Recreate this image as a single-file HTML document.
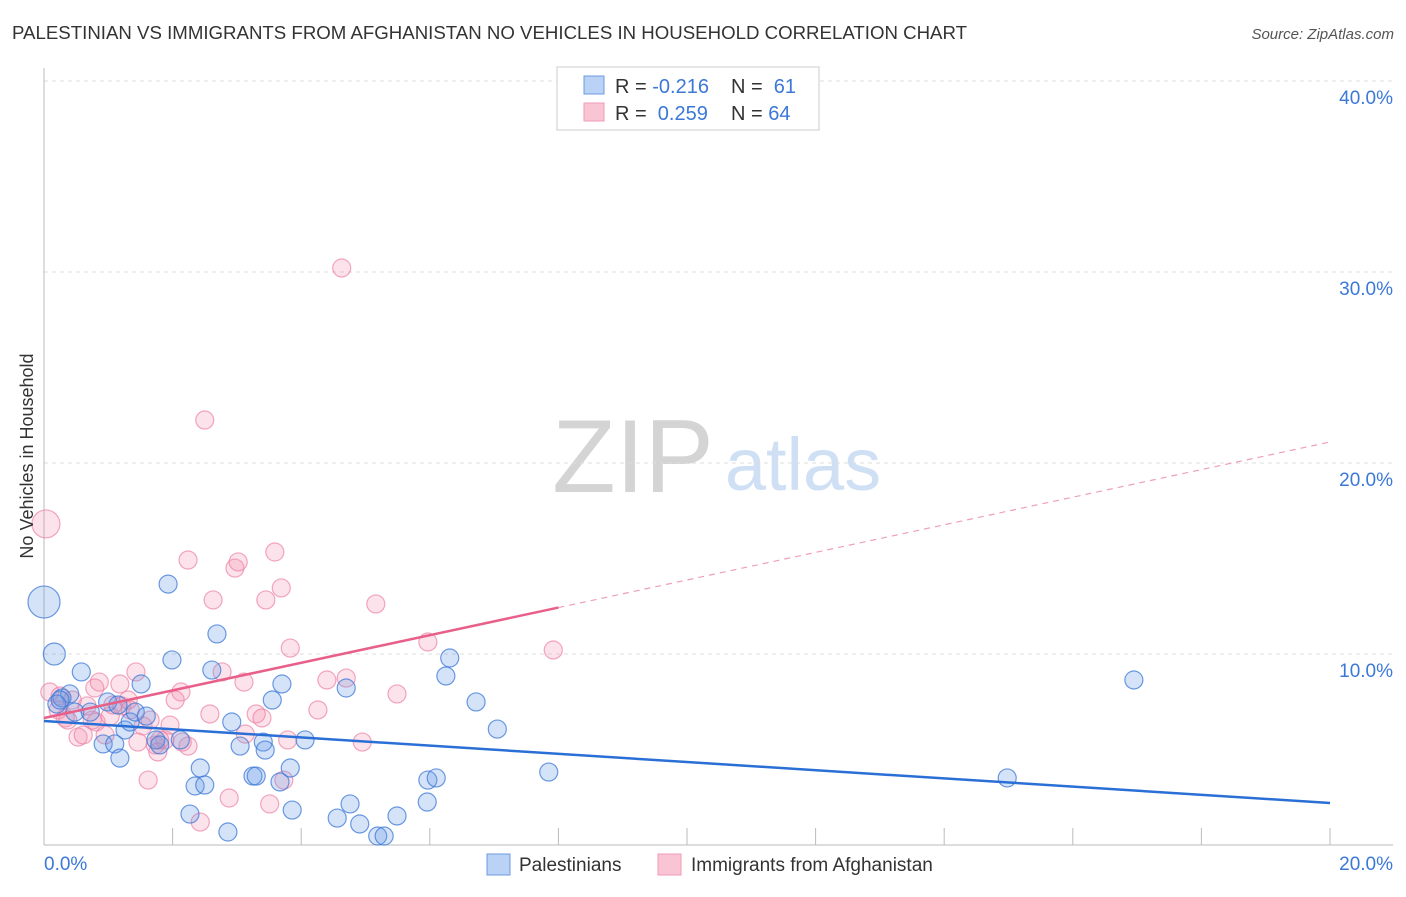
<!DOCTYPE html>
<html><head><meta charset="utf-8"><style>
body{margin:0;background:#fff;font-family:"Liberation Sans",sans-serif}
svg text{font-family:"Liberation Sans",sans-serif}
</style></head><body>
<svg id="chart" width="1406" height="892" viewBox="0 0 1406 892" xmlns="http://www.w3.org/2000/svg">
<text x="12" y="39" font-size="18" fill="#333" textLength="955" lengthAdjust="spacingAndGlyphs">PALESTINIAN VS IMMIGRANTS FROM AFGHANISTAN NO VEHICLES IN HOUSEHOLD CORRELATION CHART</text>
<text x="1394" y="39" font-size="15" fill="#555" text-anchor="end" font-style="italic">Source: ZipAtlas.com</text>
<g>
<text x="633" y="492" font-size="104" fill="#d4d4d4" text-anchor="middle" font-family="Liberation Serif">ZIP</text>
<text x="803" y="490" font-size="74" fill="#cfe0f5" text-anchor="middle">atlas</text>
</g>
<g id="grid"></g>
<g id="axes"></g>
<g id="points"></g>
<g id="trends"></g>
<text transform="translate(33,456) rotate(-90)" font-size="18" fill="#333" text-anchor="middle">No Vehicles in Household</text>
<g>
<rect x="557" y="67" width="262" height="63" fill="#fff" stroke="#ccc"/>
<rect x="584" y="76" width="20" height="18" fill="#b9d2f5" stroke="#6a9be0"/>
<rect x="584" y="103" width="20" height="18" fill="#f9c5d4" stroke="#f09ab5"/>
<text x="615" y="93" font-size="20" fill="#333">R = <tspan fill="#3b78d8">-0.216</tspan></text>
<text x="731" y="93" font-size="20" fill="#333">N = <tspan fill="#3b78d8">&#160;61</tspan></text>
<text x="615" y="120" font-size="20" fill="#333">R = <tspan fill="#3b78d8">&#160;0.259</tspan></text>
<text x="731" y="120" font-size="20" fill="#333">N = <tspan fill="#3b78d8">64</tspan></text>
</g>
<g>
<rect x="487" y="854" width="23" height="21" fill="#b9d2f5" stroke="#6a9be0"/>
<text x="519" y="871" font-size="19" fill="#333">Palestinians</text>
<rect x="658" y="854" width="23" height="21" fill="#f9c5d4" stroke="#f09ab5"/>
<text x="691" y="871" font-size="19" fill="#333">Immigrants from Afghanistan</text>
</g>
</svg>
<script>
const blueX=[0,0.16,0.58,0.40,0.28,0.20,0.92,1.10,1.18,1.26,1.34,1.42,1.51,1.59,1.74,1.80,1.93,1.99,2.12,2.35,2.27,2.43,2.50,2.61,2.69,2.92,3.05,2.86,3.25,3.30,3.41,3.44,3.55,3.70,3.67,3.83,3.86,4.06,4.56,4.70,4.76,4.91,5.19,5.29,5.49,5.96,5.97,6.10,6.25,6.31,6.72,7.05,7.85,14.98,16.95,0.72,0.99,1.15,0.25,0.48];
const blueY=[12.72,10.0,9.06,7.91,7.70,7.38,5.29,5.29,4.55,6.02,6.44,6.96,8.43,6.75,5.50,5.24,13.66,9.69,5.50,3.09,1.62,4.03,3.14,9.16,11.05,6.44,5.18,0.68,3.61,3.61,5.39,4.97,7.59,8.43,3.30,4.03,1.83,5.50,1.41,8.22,2.15,1.10,0.47,0.47,1.52,2.25,3.40,3.51,8.85,9.79,7.49,6.07,3.82,3.51,8.64,6.96,7.49,7.33,7.59,6.96];
const blueR=[16,11];
const pinkX=[0.03,0.09,0.25,0.44,0.22,0.33,0.53,0.61,0.79,0.86,0.67,0.81,0.95,1.03,1.18,1.21,1.34,1.43,1.46,1.54,1.62,1.73,1.77,1.88,1.96,2.13,2.24,2.24,2.50,2.58,2.63,2.77,2.88,2.97,3.02,3.11,3.13,3.30,3.45,3.51,3.59,3.69,3.73,3.79,3.83,4.26,4.40,4.63,4.70,4.95,5.16,5.49,5.97,7.92,2.43,1.65,2.04,3.39,1.07,1.31,1.80,2.15,0.37,0.75];
const pinkY=[16.81,8.01,7.80,7.59,7.07,6.65,5.65,5.76,8.22,8.53,7.28,6.44,5.76,6.75,8.43,7.28,7.07,9.06,5.39,6.23,3.40,5.24,4.87,5.50,6.28,8.01,14.92,5.18,22.25,6.86,12.83,9.06,2.46,14.50,14.82,8.53,5.81,6.86,12.83,2.15,15.34,13.46,3.40,5.50,10.31,7.07,8.64,30.21,8.74,5.39,12.62,7.91,10.63,10.21,1.20,6.54,7.59,6.65,7.33,7.59,5.50,5.39,6.54,6.54];
const pinkR=[14];
const blueTrend=[6.49,2.2];
const pinkTrend=[6.65,21.1];
const yTicks=[10,20,30,40];
const yTickLabels=["10.0%","20.0%","30.0%","40.0%"];
const xTickLabels=["0.0%","20.0%"];
const X0=44,X1=1330,Y0=845,PX_PER=19.1;
const sx=v=>X0+v*(X1-X0)/20;
const sy=v=>Y0-v*PX_PER;
const NS="http://www.w3.org/2000/svg";
function mk(tag,attrs,parent){const e=document.createElementNS(NS,tag);for(const k in attrs)e.setAttribute(k,attrs[k]);parent.appendChild(e);return e;}
const grid=document.getElementById('grid'),axes=document.getElementById('axes'),pts=document.getElementById('points'),tr=document.getElementById('trends');
yTicks.forEach((t,i)=>{
 const l=mk('line',{x1:X0,x2:1393,y1:sy(t),y2:sy(t),stroke:'#ddd','stroke-dasharray':'4,4'},grid);
 
 
 const tx=mk('text',{x:1393,y:sy(t)+23,'font-size':19,fill:'#3b78d8','text-anchor':'end'},axes);
 tx.textContent=yTickLabels[i];
 
 
});
const ax=mk('line',{x1:X0,x2:1393,y1:Y0,y2:Y0,stroke:'#bbb'},axes);


const ay=mk('line',{x1:X0,x2:X0,y1:68,y2:Y0,stroke:'#bbb'},axes);


for(let i=1;i<=10;i++){
 const t=mk('line',{x1:sx(i*2),x2:sx(i*2),y1:Y0-17,y2:Y0,stroke:'#bbb'},axes);
 
 
}
const xl0=mk('text',{x:X0,y:870,'font-size':19,fill:'#3b78d8'},axes);xl0.textContent=xTickLabels[0];


const xl1=mk('text',{x:1393,y:870,'font-size':19,fill:'#3b78d8','text-anchor':'end'},axes);xl1.textContent=xTickLabels[1];


function drawPts(xs,ys,rs,fill,stroke,name){
 xs.forEach((x,i)=>{
  const c=mk('circle',{cx:sx(x),cy:sy(ys[i]),r:rs[i]||9,fill:fill,stroke:stroke,'stroke-width':1.2},pts);
  
  
 });
}
drawPts(pinkX,pinkY,pinkR,'rgba(242,140,170,0.25)','rgba(236,130,165,0.7)','point-afghanistan');
drawPts(blueX,blueY,blueR,'rgba(100,150,230,0.27)','rgba(60,120,215,0.75)','point-palestinians');
const bl=mk('line',{x1:sx(0),y1:sy(blueTrend[0]),x2:sx(20),y2:sy(blueTrend[1]),stroke:'#2a6fd6','stroke-width':2.5},tr);


const pAt=x=>pinkTrend[0]+(pinkTrend[1]-pinkTrend[0])*x/20;
const pl=mk('line',{x1:sx(0),y1:sy(pAt(0)),x2:sx(8),y2:sy(pAt(8)),stroke:'#e8608a','stroke-width':2.5},tr);


const pd=mk('line',{x1:sx(8),y1:sy(pAt(8)),x2:sx(20),y2:sy(pAt(20)),stroke:'#eea0b8','stroke-width':1.2,'stroke-dasharray':'6,5'},tr);


</script>
</body></html>
